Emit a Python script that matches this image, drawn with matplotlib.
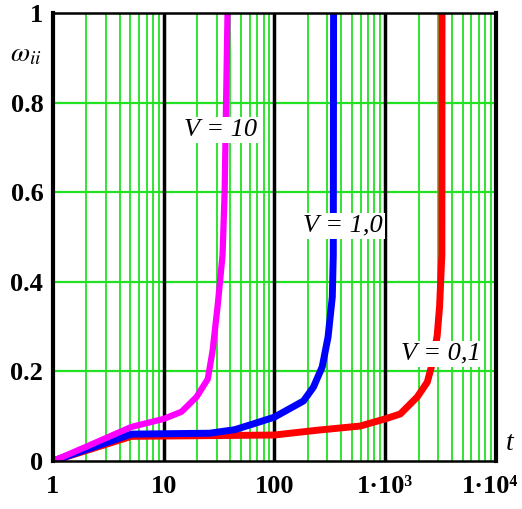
import numpy as np
import matplotlib.pyplot as plt
import matplotlib.transforms as mtransforms

plt.rcParams['font.family'] = ['Liberation Serif', 'DejaVu Serif']
plt.rcParams['mathtext.fontset'] = 'stix'

# curves
t_v10 = [1, 2, 5.1, 10, 14.5, 19.8, 25, 27.6, 30.8, 34, 35.5, 37.7]
w_v10 = [0, 0.032, 0.076, 0.094, 0.11, 0.143, 0.183, 0.245, 0.35, 0.46, 0.6, 1.0]

t_v1 = [1, 5.1, 26, 44, 75, 100, 183, 225, 270, 305, 333, 340, 342]
w_v1 = [0, 0.06, 0.062, 0.07, 0.088, 0.098, 0.134, 0.165, 0.21, 0.277, 0.366, 0.46, 1.0]

t_v01 = [1, 5.1, 100, 250, 595, 1000, 1370, 1950, 2400, 2700, 2950, 3100, 3250, 3260]
w_v01 = [0, 0.055, 0.058, 0.069, 0.078, 0.094, 0.105, 0.143, 0.176, 0.223, 0.28, 0.345, 0.46, 1.0]

labels = ["V = 10", "V = 1,0", "V = 0,1"]
label_pos = [(32.5, 0.739), (417, 0.525), (3170, 0.239)]

xticks = [1, 10, 100, 1000, 10000]
xticklabels = ["1", "10", "100", "1\u00b710\u00b3", "1\u00b710\u2074"]
yticks = [0, 0.2, 0.4, 0.6, 0.8, 1.0]
yticklabels = ["0", "0.2", "0.4", "0.6", "0.8", "1"]

fig = plt.figure(figsize=(5.22, 5.09), dpi=100)
ax = fig.add_axes([0.1015, 0.0943, 0.8485, 0.8802])

ax.set_xscale("log")
ax.set_xlim(1, 10000)
ax.set_ylim(0, 1)

# green minor grid + black decades
for dec in [1, 10, 100, 1000]:
    for k in range(2, 10):
        ax.axvline(dec * k, color="#22e022", lw=1.3, zorder=1)
for y in [0.2, 0.4, 0.6, 0.8]:
    ax.axhline(y, color="#22e022", lw=1.6, zorder=1)
for x in [10, 100, 1000]:
    ax.axvline(x, color="black", lw=2.5, zorder=2)

ax.plot(t_v01, w_v01, color="#ff0000", lw=5, zorder=3, solid_capstyle="butt")
ax.plot(t_v1, w_v1, color="#0000ff", lw=5, zorder=4, solid_capstyle="butt")
ax.plot(t_v10, w_v10, color="#ff00ff", lw=4.5, zorder=5, solid_capstyle="butt")

for lab, (x, y) in zip(labels, label_pos):
    ax.text(x, y, lab, ha="center", va="center", fontsize=19, style="italic",
            zorder=6, bbox=dict(facecolor="white", edgecolor="none", pad=1.5))

ax.set_xticks(xticks)
ax.set_xticklabels(xticklabels, fontsize=19, fontweight="bold")
ax.set_yticks(yticks)
ax.set_yticklabels(yticklabels, fontsize=19, fontweight="bold")
ax.minorticks_off()
ax.tick_params(length=0, axis="x", pad=10)
ax.tick_params(length=0, axis="y", pad=7)

# last x label sits against the right edge
last = ax.get_xticklabels()[-1]
last.set_transform(last.get_transform() + mtransforms.ScaledTranslation(-6 / 100, 0, fig.dpi_scale_trans))

ax.spines["left"].set_linewidth(3)
ax.spines["right"].set_linewidth(3)
ax.spines["top"].set_linewidth(1.8)
ax.spines["bottom"].set_linewidth(1.8)
for s in ax.spines.values():
    s.set_zorder(7)

fig.text(26 / 522, 1 - 55 / 509, r"$\omega_{ii}$", fontsize=20, ha="center", va="center")
fig.text(510 / 522, 1 - 443 / 509, "t", fontsize=20, style="italic", ha="center", va="center")

plt.savefig("out.png", dpi=100)
